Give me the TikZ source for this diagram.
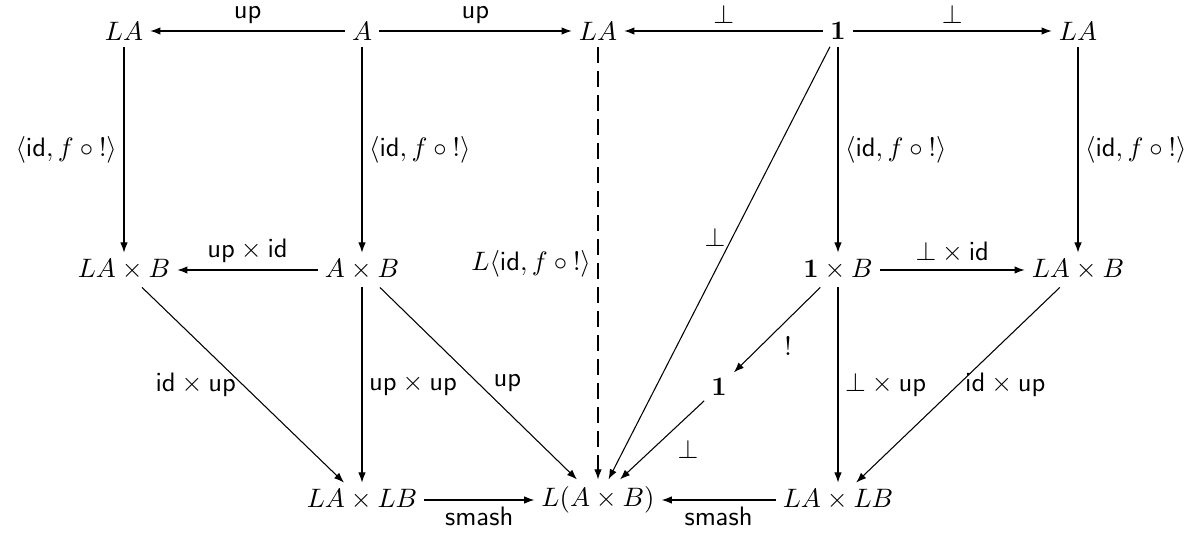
\documentclass[tikz,border=0pt]{standalone}
\usetikzlibrary{arrows.meta}
\begin{document}
\begin{tikzpicture}[x=0.375pt,y=-0.375pt,
  obj/.style={inner sep=2.5pt},
  arr/.style={-{Latex[length=3.8pt,width=2.8pt]}},
  dsh/.style={arr,dash pattern=on 6pt off 3pt},
  lbl/.style={inner sep=2.5pt}]
\useasboundingbox (0,0) rectangle (1203,543);
% top row
\node[obj] (t1) at (124,31) {$LA$};
\node[obj] (t2) at (362,31) {$A$};
\node[obj] (t3) at (598,31) {$LA$};
\node[obj] (t4) at (838,31) {$\mathbf{1}$};
\node[obj] (t5) at (1078,31) {$LA$};
% middle row
\node[obj] (m1) at (124,270) {$LA\times B$};
\node[obj] (m2) at (362,270) {$A\times B$};
\node[obj] (m4) at (838,270) {$\mathbf{1}\times B$};
\node[obj] (m5) at (1078,270) {$LA\times B$};
\node[obj] (c) at (719,387) {$\mathbf{1}$};
% bottom row
\node[obj] (b1) at (362,500) {$LA\times LB$};
\node[obj] (b2) at (598,500) {$L(A\times B)$};
\node[obj] (b3) at (838,500) {$LA\times LB$};
% top arrows
\draw[arr] (t2) -- node[lbl,above] {$\mathsf{up}$} (t1);
\draw[arr] (t2) -- node[lbl,above] {$\mathsf{up}$} (t3);
\draw[arr] (t4) -- node[lbl,above] {$\bot$} (t3);
\draw[arr] (t4) -- node[lbl,above] {$\bot$} (t5);
% verticals top->middle
\draw[arr] (t1) -- node[lbl,left] {$\langle\mathsf{id}, f\circ {!}\rangle$} (m1);
\draw[arr] (t2) -- node[lbl,right] {$\langle\mathsf{id}, f\circ {!}\rangle$} (m2);
\draw[arr] (t4) -- node[lbl,right] {$\langle\mathsf{id}, f\circ {!}\rangle$} (m4);
\draw[arr] (t5) -- node[lbl,right] {$\langle\mathsf{id}, f\circ {!}\rangle$} (m5);
\draw[dsh] (t3) -- node[lbl,left] {$L\langle\mathsf{id}, f\circ {!}\rangle$} (b2);
% middle horizontals
\draw[arr] (m2) -- node[lbl,above] {$\mathsf{up}\times\mathsf{id}$} (m1);
\draw[arr] (m4) -- node[lbl,above] {$\bot\times\mathsf{id}$} (m5);
% lower
\draw[arr] (m1) -- node[lbl,left] {$\mathsf{id}\times\mathsf{up}$} (b1);
\draw[arr] (m2) -- node[lbl,right] {$\mathsf{up}\times\mathsf{up}$} (b1);
\draw[arr] (m2) -- node[lbl,right=3pt] {$\mathsf{up}$} (b2);
\draw[arr] (t4) -- node[lbl,pos=0.44,left] {$\bot$} (b2);
\draw[arr] (m4) -- node[lbl,pos=0.5,below right] {$!$} (c);
\draw[arr] (c) -- node[lbl,pos=0.4,below right] {$\bot$} (b2);
\draw[arr] (m4) -- node[lbl,right] {$\bot\times\mathsf{up}$} (b3);
\draw[arr] (m5) -- node[lbl,right] {$\mathsf{id}\times\mathsf{up}$} (b3);
% bottom
\draw[arr] (b1) -- node[lbl,below] {$\mathsf{smash}$} (b2);
\draw[arr] (b3) -- node[lbl,below] {$\mathsf{smash}$} (b2);
\end{tikzpicture}
\end{document}
